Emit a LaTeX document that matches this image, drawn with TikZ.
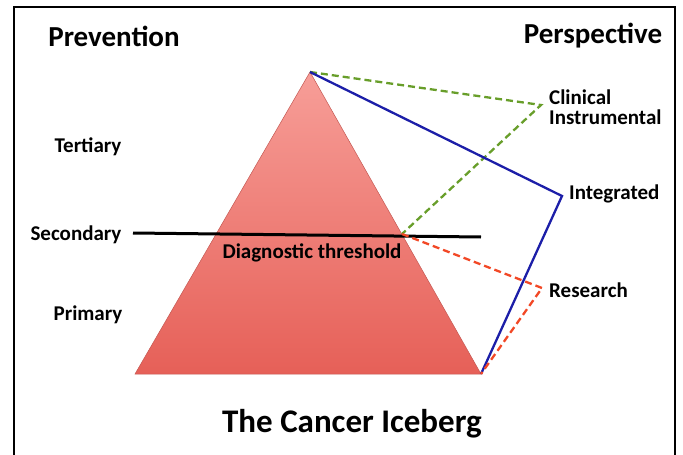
\documentclass[tikz,border=0pt]{standalone}
\usepackage{fontspec}
\setmainfont{Carlito}
\definecolor{icetop}{RGB}{247,158,152}
\definecolor{icebottom}{RGB}{230,96,88}
\definecolor{iceedge}{RGB}{196,88,82}
\definecolor{clingreen}{RGB}{104,158,42}
\definecolor{intblue}{RGB}{28,30,168}
\definecolor{resred}{RGB}{242,72,38}

\begin{document}
\begin{tikzpicture}[x = 1pt, y = -1pt,
    every node/.style = {font = \bfseries\fontsize{21pt}{20pt}\selectfont, inner sep = 0pt},
    heading/.style = {font = \bfseries\fontsize{29pt}{30pt}\selectfont},
    side label/.style = {anchor = west, align = left},
    view line/.style = {line width = 2.3pt, dash pattern = on 7pt off 4pt}]
        \useasboundingbox (0,0) rectangle (683,455);
        % frame
        \draw[line width = 2pt] (14,455) -- (14,7) -- (675,7) -- (675,455);
        % iceberg
        \coordinate (apex) at (310,72);
        \coordinate (base left) at (135,374);
        \coordinate (base right) at (481,374);
        \shade[top color = icetop, bottom color = icebottom, draw = iceedge, line width = 0.5pt]
            (apex) -- (base left) -- (base right) -- cycle;
        % threshold
        \coordinate (thr left) at (133,233);
        \coordinate (thr right) at (481,237);
        \coordinate (cut) at (402,234);
        \draw[line width = 3pt] (thr left) -- (thr right);
        % perspectives
        \coordinate (clinical) at (541,105);
        \coordinate (integrated) at (562,196);
        \coordinate (research) at (542,288);
        \draw[view line, clingreen] (apex) -- (clinical) -- (cut);
        \draw[line width = 2.3pt, intblue] (apex) -- (integrated) -- (base right);
        \draw[view line, resred] (cut) -- (research) -- (base right);
        % labels
        \node[heading] (prevention) at (114,36) {Prevention};
        \node[heading] (perspective) at (593,36) {Perspective};
        \node (tertiary) at (88,147) {Tertiary};
        \node (secondary) at (76,235) {Secondary};
        \node (primary) at (88,315) {Primary};
        \node (threshold) at (312,253) {Diagnostic threshold};
        \node[side label] (clinical text) at (549,107) {Clinical\\Instrumental};
        \node[side label] (integrated text) at (569,194) {Integrated};
        \node[side label] (research text) at (549,290) {Research};
        \node[font = \bfseries\fontsize{33pt}{34pt}\selectfont] (title) at (352,424) {The Cancer Iceberg};
\end{tikzpicture}
\end{document}
